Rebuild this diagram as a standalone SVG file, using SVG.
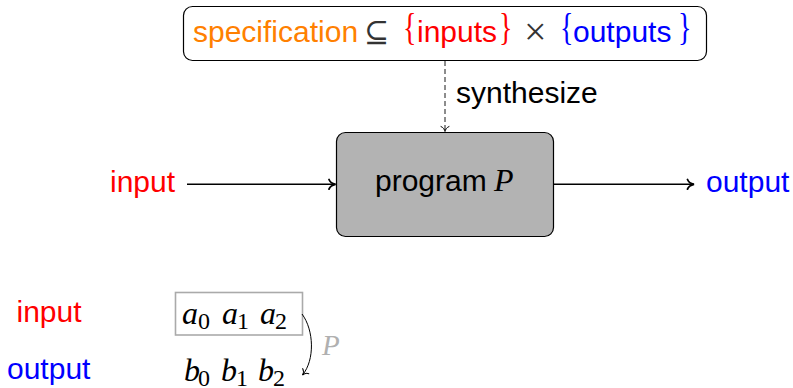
<svg xmlns="http://www.w3.org/2000/svg" width="793" height="388" viewBox="0 0 793 388">
  <style>
    .sans { font-family: "Liberation Sans", Arial, sans-serif; font-size: 30px; }
    .math { font-family: "Liberation Serif", "DejaVu Serif", serif; }
    .mi { font-family: "Liberation Serif", "DejaVu Serif", serif; font-style: italic; }
    .brace { font-family: "Liberation Serif", "DejaVu Serif", serif; font-size: 28px; }
    .red { fill: #ff0000; }
    .blue { fill: #0000ff; }
    .orange { fill: #ff8000; }
    .edge { fill: none; stroke: #000; stroke-width: 1.6; }
  </style>
  <defs>
    <marker id="to" markerUnits="userSpaceOnUse" viewBox="-8 -6 10 12" refX="0" refY="0" markerWidth="10" markerHeight="12" orient="auto">
      <path d="M-6.5,-4.8 C-5.5,-2 -2.2,-0.5 0,0 C-2.2,0.5 -5.5,2 -6.5,4.8" fill="none" stroke="#000" stroke-width="1.8" stroke-linecap="round"/>
    </marker>
    <marker id="to-thin" markerUnits="userSpaceOnUse" viewBox="-8 -6 10 12" refX="0" refY="0" markerWidth="10" markerHeight="12" orient="auto">
      <path d="M-5,-4 C-4.2,-1.6 -1.6,-0.35 0,0 C-1.6,0.35 -4.2,1.6 -5,4" fill="none" stroke="#000" stroke-width="1" stroke-linecap="round"/>
    </marker>
  </defs>

  <!-- specification node -->
  <g id="spec">
    <rect x="183.5" y="6.5" width="523" height="54" rx="9" ry="9" fill="#fff" stroke="#000" stroke-width="1.2"/>
    <text class="sans orange" x="193" y="42">specification</text>
    <text class="math" x="364" y="42" font-size="30" fill="#333">⊆</text>
    <text class="brace red" transform="translate(403,40) scale(1,1.35)">{</text>
    <text class="sans red" x="417" y="42">inputs</text>
    <text class="brace red" transform="translate(499,40) scale(1,1.35)">}</text>
    <text class="math" x="524" y="45" font-size="40" fill="#333">×</text>
    <text class="brace blue" transform="translate(560,40) scale(1,1.35)">{</text>
    <text class="sans blue" x="573" y="42">outputs</text>
    <text class="brace blue" transform="translate(678,40) scale(1,1.35)">}</text>
  </g>

  <!-- program node -->
  <g id="program">
    <rect x="336.5" y="132.5" width="217" height="104" rx="9" ry="9" fill="#b3b3b3" stroke="#000" stroke-width="1.2"/>
    <text class="sans" x="375" y="191" fill="#000">program<tspan class="mi" x="494" font-size="32">P</tspan></text>
  </g>

  <!-- terminal labels -->
  <g id="input-label">
    <text class="sans red" x="110" y="192">input</text>
  </g>
  <g id="output-label">
    <text class="sans blue" x="706" y="192">output</text>
  </g>

  <!-- connectors -->
  <g id="connectors">
    <line x1="445" y1="61" x2="445" y2="131.5" fill="none" stroke="#000" stroke-width="0.9" stroke-dasharray="5 3" marker-end="url(#to-thin)"/>
    <line class="edge" x1="187" y1="184.3" x2="335.5" y2="184.3" marker-end="url(#to)"/>
    <line class="edge" x1="554" y1="184.3" x2="694" y2="184.3" marker-end="url(#to)"/>
  </g>
  <text class="sans" x="456" y="103" fill="#000">synthesize</text>

  <!-- example: input word mapped to output word -->
  <g id="example">
    <text class="sans red" x="16.5" y="321.7">input</text>
    <text class="sans blue" x="7" y="379">output</text>
    <rect x="175.5" y="292.5" width="127" height="42.5" fill="none" stroke="#aaaaaa" stroke-width="1.6"/>
    <g class="mi" font-size="32" fill="#000">
      <text x="182" y="324">a</text>
      <text x="222" y="324">a</text>
      <text x="260" y="324">a</text>
      <text x="184" y="381">b</text>
      <text x="221" y="381">b</text>
      <text x="258" y="381">b</text>
    </g>
    <g class="math" font-size="24" fill="#000">
      <text x="198" y="329">0</text>
      <text x="237" y="329">1</text>
      <text x="275" y="329">2</text>
      <text x="198" y="385.5">0</text>
      <text x="236" y="385.5">1</text>
      <text x="273" y="385.5">2</text>
    </g>
    <path d="M302,314 C314,330 315,360 302.5,375" fill="none" stroke="#000" stroke-width="1" marker-end="url(#to-thin)"/>
    <text class="mi" x="322" y="355" font-size="29" fill="#b0b0b0">P</text>
  </g>
</svg>
